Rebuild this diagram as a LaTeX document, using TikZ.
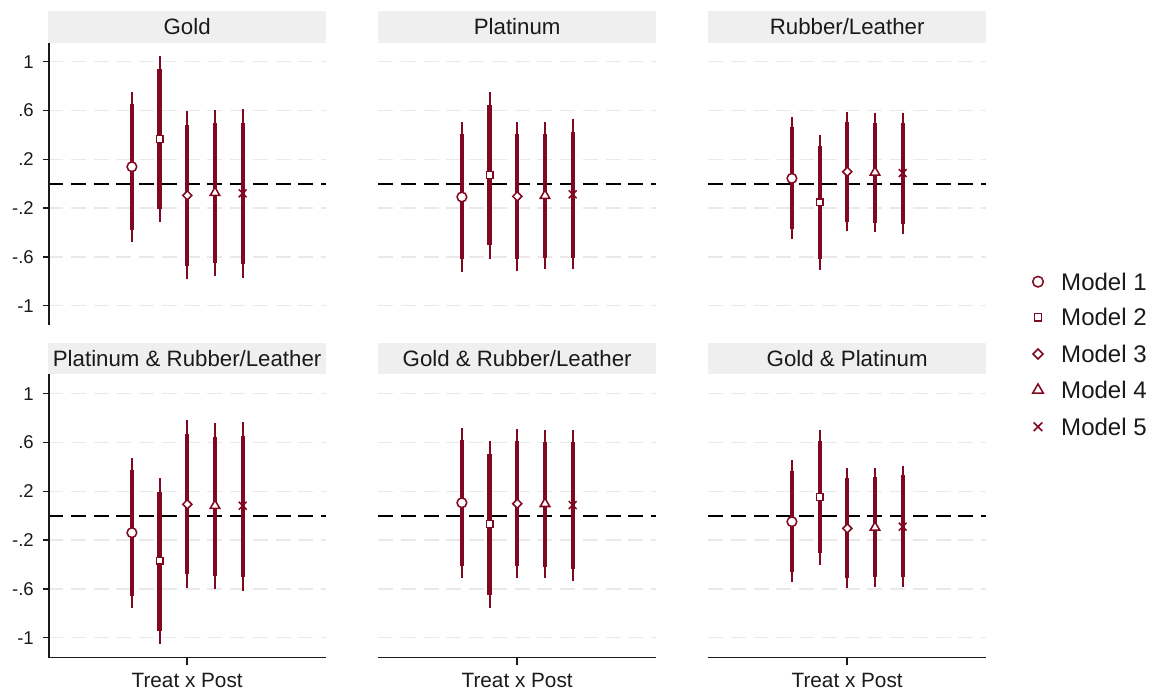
\documentclass[tikz,border=0pt]{standalone}
\usepackage{fontspec}
\setmainfont{Liberation Sans}
\usetikzlibrary{shapes.geometric,shapes.misc}

\definecolor{barred}{RGB}{128,8,32}
\definecolor{stripgray}{RGB}{239,239,239}
\definecolor{gridgray}{RGB}{233,233,233}
\definecolor{inkgray}{RGB}{26,26,26}

\tikzset{
  thinci/.style={barred, line width=1.7pt},
  thickci/.style={barred, line width=3.6pt},
  gridline/.style={gridgray, line width=1.3pt, dash pattern=on 12.8pt off 6.6pt},
  zeroline/.style={black, line width=1.7pt, dash pattern=on 12.8pt off 6.6pt},
  axisline/.style={inkgray, line width=1.2pt},
  paneltitle/.style={inkgray, font=\fontsize{19}{22}\selectfont, inner sep=0pt},
  ticklab/.style={inkgray, anchor=east, font=\fontsize{15.8}{18}\selectfont, inner sep=0pt},
  xlab/.style={inkgray, font=\fontsize{17.7}{20}\selectfont, inner sep=0pt},
  legtext/.style={inkgray, anchor=west, font=\fontsize{20.5}{24}\selectfont, inner sep=0pt},
  % markers of the five models
  mk/.style={draw=barred, fill=white, line width=1.3pt, inner sep=0pt},
  mk1/.style={mk, circle, minimum size=2.9mm},
  mk2/.style={mk, rectangle, minimum size=2.0mm},
  mk3/.style={mk, diamond, minimum size=2.9mm},
  mk4/.style={mk, regular polygon, regular polygon sides=3, minimum size=3.3mm},
  mk5/.style={draw=barred, cross out, line width=1.3pt, minimum size=1.9mm, inner sep=0pt},
}

\begin{document}
\begin{tikzpicture}[x=0.3mm, y=0.3mm]

    \useasboundingbox (0,0) rectangle (1162,693);

    % Gold
    \begin{scope}[shift={(48.3,509.3)}, y=36.6mm]
        \fill[stripgray] (0,1.157) rectangle (277.7,1.415);
        \node[paneltitle] (t1) at (138.85,1.286) {Gold};
        \foreach \g in {-1,-.6,-.2,.2,.6,1}
            \draw[gridline] (0,\g) -- (277.7,\g);
        \draw[zeroline] (0,0) -- (277.7,0);
        \foreach \i/\pt/\tl/\th/\nl/\nh [evaluate=\i as \bx using 139+(\i-3)*27.7] in
            {1/0.139/-0.380/0.650/-0.475/0.749, 2/0.366/-0.208/0.940/-0.311/1.049,
             3/-0.096/-0.675/0.480/-0.784/0.596, 4/-0.074/-0.650/0.495/-0.760/0.604,
             5/-0.079/-0.658/0.500/-0.770/0.612} {
            \draw[thinci] (\bx,\nl) -- (\bx,\nh);
            \draw[thickci] (\bx,\tl) -- (\bx,\th);
            \node[mk\i] (gold-\i) at (\bx,\pt) {};
        }
        % y axis
        \draw[axisline] (0.7,-1.158) -- (0.7,1.157);
        \foreach \g/\lab in {1/1,.6/.6,.2/.2,-.2/-.2,-.6/-.6,-1/-1} {
            \draw[axisline] (-5.3,\g) -- (0.7,\g);
            \node[ticklab] (ya\lab) at (-14.3,\g) {\lab};
        }
    \end{scope}

    % Platinum
    \begin{scope}[shift={(378.3,509.3)}, y=36.6mm]
        \fill[stripgray] (0,1.157) rectangle (277.7,1.415);
        \node[paneltitle] (t2) at (138.85,1.286) {Platinum};
        \foreach \g in {-1,-.6,-.2,.2,.6,1}
            \draw[gridline] (0,\g) -- (277.7,\g);
        \draw[zeroline] (0,0) -- (277.7,0);
        \foreach \i/\pt/\tl/\th/\nl/\nh [evaluate=\i as \bx using 139+(\i-3)*27.7] in
            {1/-0.109/-0.620/0.404/-0.727/0.503, 2/0.071/-0.505/0.642/-0.615/0.751,
             3/-0.104/-0.615/0.407/-0.713/0.505, 4/-0.098/-0.607/0.407/-0.702/0.505,
             5/-0.087/-0.607/0.426/-0.702/0.530} {
            \draw[thinci] (\bx,\nl) -- (\bx,\nh);
            \draw[thickci] (\bx,\tl) -- (\bx,\th);
            \node[mk\i] (plat-\i) at (\bx,\pt) {};
        }
    \end{scope}

    % Rubber/Leather
    \begin{scope}[shift={(708.3,509.3)}, y=36.6mm]
        \fill[stripgray] (0,1.157) rectangle (277.7,1.415);
        \node[paneltitle] (t3) at (138.85,1.286) {Rubber/Leather};
        \foreach \g in {-1,-.6,-.2,.2,.6,1}
            \draw[gridline] (0,\g) -- (277.7,\g);
        \draw[zeroline] (0,0) -- (277.7,0);
        \foreach \i/\pt/\tl/\th/\nl/\nh [evaluate=\i as \bx using 139+(\i-3)*27.7] in
            {1/0.044/-0.374/0.462/-0.456/0.544, 2/-0.153/-0.620/0.311/-0.708/0.399,
             3/0.098/-0.311/0.508/-0.388/0.590, 4/0.093/-0.320/0.500/-0.393/0.577,
             5/0.087/-0.333/0.500/-0.415/0.577} {
            \draw[thinci] (\bx,\nl) -- (\bx,\nh);
            \draw[thickci] (\bx,\tl) -- (\bx,\th);
            \node[mk\i] (rub-\i) at (\bx,\pt) {};
        }
    \end{scope}

    % Platinum & Rubber/Leather
    \begin{scope}[shift={(48.3,177.3)}, y=36.6mm]
        \fill[stripgray] (0,1.159) rectangle (277.7,1.413);
        \node[paneltitle] (t4) at (138.85,1.286) {Platinum \& Rubber/Leather};
        \foreach \g in {-1,-.6,-.2,.2,.6,1}
            \draw[gridline] (0,\g) -- (277.7,\g);
        \draw[zeroline] (0,0) -- (277.7,0);
        \foreach \i/\pt/\tl/\th/\nl/\nh [evaluate=\i as \bx using 139+(\i-3)*27.7] in
            {1/-0.139/-0.655/0.374/-0.753/0.475, 2/-0.368/-0.941/0.196/-1.050/0.311,
             3/0.093/-0.480/0.666/-0.595/0.783, 4/0.082/-0.494/0.641/-0.603/0.756,
             5/0.082/-0.499/0.652/-0.614/0.767} {
            \draw[thinci] (\bx,\nl) -- (\bx,\nh);
            \draw[thickci] (\bx,\tl) -- (\bx,\th);
            \node[mk\i] (platrub-\i) at (\bx,\pt) {};
        }
        % axes
        \draw[axisline] (0.7,1.159) -- (0.7,-1.16) -- (277.7,-1.16);
        \draw[axisline] (138.85,-1.16) -- (138.85,-1.226);
        \node[xlab] (x4) at (138.85,-1.347) {Treat x Post};
        \foreach \g/\lab in {1/1,.6/.6,.2/.2,-.2/-.2,-.6/-.6,-1/-1} {
            \draw[axisline] (-5.3,\g) -- (0.7,\g);
            \node[ticklab] (yb\lab) at (-14.3,\g) {\lab};
        }
    \end{scope}

    % Gold & Rubber/Leather
    \begin{scope}[shift={(378.3,177.3)}, y=36.6mm]
        \fill[stripgray] (0,1.159) rectangle (277.7,1.413);
        \node[paneltitle] (t5) at (138.85,1.286) {Gold \& Rubber/Leather};
        \foreach \g in {-1,-.6,-.2,.2,.6,1}
            \draw[gridline] (0,\g) -- (277.7,\g);
        \draw[zeroline] (0,0) -- (277.7,0);
        \foreach \i/\pt/\tl/\th/\nl/\nh [evaluate=\i as \bx using 139+(\i-3)*27.7] in
            {1/0.106/-0.412/0.622/-0.507/0.720, 2/-0.068/-0.647/0.502/-0.753/0.611,
             3/0.098/-0.412/0.611/-0.513/0.709, 4/0.098/-0.417/0.603/-0.513/0.701,
             5/0.087/-0.434/0.600/-0.532/0.701} {
            \draw[thinci] (\bx,\nl) -- (\bx,\nh);
            \draw[thickci] (\bx,\tl) -- (\bx,\th);
            \node[mk\i] (goldrub-\i) at (\bx,\pt) {};
        }
        \draw[axisline] (0,-1.16) -- (277.7,-1.16);
        \draw[axisline] (138.85,-1.16) -- (138.85,-1.226);
        \node[xlab] (x5) at (138.85,-1.347) {Treat x Post};
    \end{scope}

    % Gold & Platinum
    \begin{scope}[shift={(708.3,177.3)}, y=36.6mm]
        \fill[stripgray] (0,1.159) rectangle (277.7,1.413);
        \node[paneltitle] (t6) at (138.85,1.286) {Gold \& Platinum};
        \foreach \g in {-1,-.6,-.2,.2,.6,1}
            \draw[gridline] (0,\g) -- (277.7,\g);
        \draw[zeroline] (0,0) -- (277.7,0);
        \foreach \i/\pt/\tl/\th/\nl/\nh [evaluate=\i as \bx using 139+(\i-3)*27.7] in
            {1/-0.049/-0.464/0.368/-0.543/0.453, 2/0.153/-0.308/0.614/-0.404/0.704,
             3/-0.104/-0.513/0.311/-0.594/0.387, 4/-0.096/-0.505/0.316/-0.581/0.393,
             5/-0.090/-0.505/0.333/-0.581/0.409} {
            \draw[thinci] (\bx,\nl) -- (\bx,\nh);
            \draw[thickci] (\bx,\tl) -- (\bx,\th);
            \node[mk\i] (goldplat-\i) at (\bx,\pt) {};
        }
        \draw[axisline] (0,-1.16) -- (277.7,-1.16);
        \draw[axisline] (138.85,-1.16) -- (138.85,-1.226);
        \node[xlab] (x6) at (138.85,-1.347) {Treat x Post};
    \end{scope}

    % Legend
    \foreach \i/\yy in {1/411.3, 2/375.7, 3/339, 4/303, 5/266.3} {
        \node[mk\i, scale=1.1] (key\i) at (1038,\yy) {};
        \node[legtext] (lab\i) at (1061,\yy) {Model \i};
    }

\end{tikzpicture}
\end{document}
